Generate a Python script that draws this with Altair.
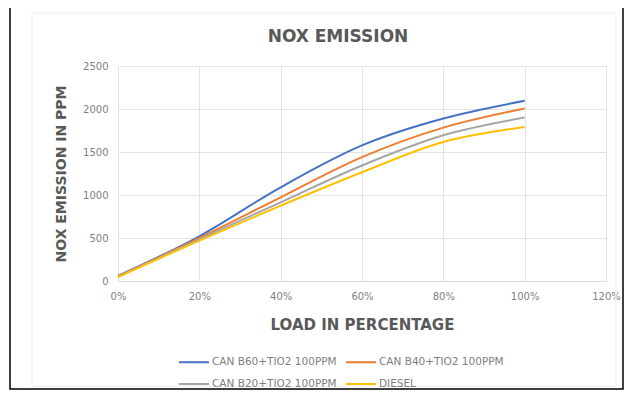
import altair as alt
import pandas as pd

loads = [0.0, 0.2, 0.4, 0.6, 0.8, 1.0]
series_names = ["CAN  B60+TIO2 100PPM", "CAN  B40+TIO2 100PPM", "CAN  B20+TIO2 100PPM", "DIESEL"]
b60 = [60, 520, 1090, 1577, 1889, 2095]
b40 = [55, 500, 973, 1440, 1783, 2006]
b20 = [50, 485, 915, 1343, 1694, 1900]
diesel = [45, 470, 876, 1265, 1616, 1791]
colors = ["#4472C4", "#ED7D31", "#A5A5A5", "#FFC000"]
x_ticks = [0, 0.2, 0.4, 0.6, 0.8, 1.0, 1.2]
y_ticks = [0, 500, 1000, 1500, 2000, 2500]
chart_title = "NOX EMISSION"

rows = []
for name, vals in zip(series_names, [b60, b40, b20, diesel]):
    for x, v in zip(loads, vals):
        rows.append({"load": x, "nox": v, "series": name})
df = pd.DataFrame(rows)

W, H = 488, 215
FONT = "DejaVu Sans"
TXT = "#595959"
LBL = "#7f7f7f"

lines = alt.Chart(df).mark_line(interpolate="catmull-rom", strokeWidth=2).encode(
    x=alt.X("load:Q", scale=alt.Scale(domain=[0, 1.2], nice=False),
            axis=alt.Axis(values=x_ticks, format=".0%", title="LOAD IN PERCENTAGE",
                          titleFontSize=15, titleFont=FONT, titleFontWeight="bold",
                          titleColor=TXT, titlePadding=16, labelFlush=False,
                          labelFontSize=10, labelFont=FONT, labelColor=LBL,
                          labelPadding=10, ticks=False, domainColor="#d9d9d9",
                          gridColor="#e3e3e3")),
    y=alt.Y("nox:Q", scale=alt.Scale(domain=[0, 2500], nice=False),
            axis=alt.Axis(values=y_ticks, format="d", title="NOX EMISSION IN PPM",
                          titleFontSize=14, titleFont=FONT, titleFontWeight="bold",
                          titleColor=TXT, titlePadding=14,
                          labelFontSize=10, labelFont=FONT, labelColor=LBL,
                          labelPadding=10, ticks=False, domain=False,
                          gridColor="#e3e3e3")),
    color=alt.Color("series:N", sort=series_names,
                    scale=alt.Scale(domain=series_names, range=colors),
                    legend=alt.Legend(title=None, orient="none", legendX=60, legendY=280,
                                      direction="horizontal",
                                      columns=2, symbolType="stroke", symbolSize=900,
                                      symbolStrokeWidth=2, labelFontSize=10.5, labelFont=FONT,
                                      labelColor=LBL, rowPadding=-7, columnPadding=2,
                                      labelOffset=2)),
)

frame_df = pd.DataFrame({"k": [0]})
outer = alt.Chart(frame_df).mark_rect(fill=None, stroke="#000000", strokeWidth=1.5).encode(
    x=alt.value(-108), x2=alt.value(505), y=alt.value(-64), y2=alt.value(323))
inner = alt.Chart(frame_df).mark_rect(fill=None, stroke="#ececec", strokeWidth=1).encode(
    x=alt.value(-86), x2=alt.value(498), y=alt.value(-53), y2=alt.value(320))
title = alt.Chart(frame_df).mark_text(font=FONT, fontSize=17, fontWeight="bold",
                                      color=TXT, align="center", baseline="middle").encode(
    x=alt.value(220), y=alt.value(-29), text=alt.value(chart_title))

chart = alt.layer(inner, outer, title, lines).properties(
    width=W, height=H,
    autosize=alt.AutoSizeParams(type="none"),
    padding={"left": 110, "top": 58, "right": 18, "bottom": 110},
    background="white",
).configure_view(stroke=None)

chart.save("out.html", embed_options={"renderer": "svg", "actions": False})
